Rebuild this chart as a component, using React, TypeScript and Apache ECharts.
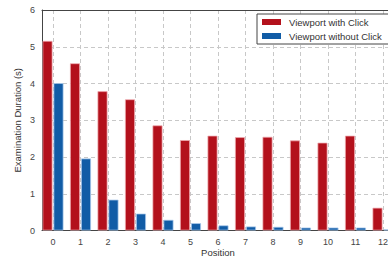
import React, { useEffect, useRef } from "react";
import * as echarts from "echarts";

const positions = [0, 1, 2, 3, 4, 5, 6, 7, 8, 9, 10, 11, 12];
const withClick = [5.16, 4.55, 3.79, 3.57, 2.86, 2.46, 2.58, 2.54, 2.55, 2.45, 2.39, 2.58, 0.62];
const withoutClick = [4.01, 1.96, 0.84, 0.46, 0.29, 0.2, 0.14, 0.11, 0.1, 0.08, 0.08, 0.08, 0.03];
const seriesNames = ["Viewport with Click", "Viewport without Click"];
const yTicks = [0, 1, 2, 3, 4, 5, 6];

const FONT = "Liberation Sans";

export default function App() {
  const ref = useRef<HTMLDivElement>(null);
  useEffect(() => {
    if (!ref.current) return;
    const chart = echarts.init(ref.current, null, { renderer: "svg" });
    const gridColor = "#c8c8c8";
    const dash = { color: gridColor, type: [4, 3] as any, width: 1 };
    const isInt = (v: number) => Math.abs(v - Math.round(v)) < 1e-6;
    // x ticks every 0.2 starting at -0.4: integer ticks are indices 2, 7, 12, ...
    const xSplitColors = ["transparent", "transparent", gridColor, "transparent", "transparent"];
    chart.setOption({
      animation: false,
      backgroundColor: "#ffffff",
      textStyle: { fontFamily: FONT },
      grid: { left: 42, top: 10, right: -6, bottom: 28.5, outerBoundsMode: "none", containLabel: false },
      legend: {
        data: seriesNames,
        orient: "vertical",
        left: 257,
        top: 14,
        padding: [3, 14, 3, 5],
        itemGap: 4,
        itemWidth: 19,
        itemHeight: 6,
        itemStyle: { borderWidth: 0 },
        borderColor: "#444",
        borderWidth: 1,
        backgroundColor: "#fff",
        textStyle: { fontFamily: FONT, fontSize: 9.5, color: "#333", padding: [0, 0, 0, 3] },
        icon: "rect",
      },
      xAxis: [
        {
          type: "value",
          min: -0.4,
          max: 12.4,
          interval: 0.2,
          name: "Position",
          nameLocation: "middle",
          nameGap: 17,
          nameMoveOverlap: false,
          nameTextStyle: { fontFamily: FONT, fontSize: 9.5, color: "#333", lineHeight: 10 },
          axisLine: { show: true, onZero: false, lineStyle: { color: "#444", width: 1 } },
          axisTick: { show: false },
          axisLabel: {
            fontFamily: FONT,
            fontSize: 9,
            color: "#444",
            margin: 7,
            hideOverlap: false,
            formatter: (v: number) => (isInt(v) ? String(Math.round(v)) : ""),
          },
          splitLine: { show: true, lineStyle: { ...dash, color: xSplitColors } },
        },
        {
          type: "value",
          position: "top",
          min: -0.4,
          max: 12.4,
          axisLine: { show: true, onZero: false, lineStyle: { color: "#444", width: 1 } },
          axisTick: { show: false },
          axisLabel: { show: false },
          splitLine: { show: false },
        },
      ],
      yAxis: {
        type: "value",
        min: yTicks[0],
        max: yTicks[yTicks.length - 1],
        interval: 1,
        name: "Examination Duration (s)",
        nameLocation: "middle",
        nameGap: 20,
        nameMoveOverlap: false,
        nameTextStyle: { fontFamily: FONT, fontSize: 9.5, color: "#333" },
        axisLine: { show: true, onZero: false, lineStyle: { color: "#444", width: 1 } },
        axisTick: { show: false },
        axisLabel: { fontFamily: FONT, fontSize: 9, color: "#444", margin: 7 },
        splitLine: { show: true, lineStyle: dash },
      },
      series: [
        {
          name: seriesNames[0],
          type: "bar",
          xAxisIndex: 0,
          barWidth: 10,
          barGap: "10%",
          data: positions.map((p, i) => [p, withClick[i]]),
          itemStyle: { color: "#b3111c", borderColor: "rgba(240,170,175,0.9)", borderWidth: 0.8 },
        },
        {
          name: seriesNames[1],
          type: "bar",
          xAxisIndex: 0,
          barWidth: 10,
          barGap: "10%",
          data: positions.map((p, i) => [p, withoutClick[i]]),
          itemStyle: { color: "#115ca6", borderColor: "rgba(170,200,235,0.9)", borderWidth: 0.8 },
        },
      ],
    });
    return () => chart.dispose();
  }, []);
  return (
    <div
      ref={ref}
      style={{ position: "fixed", left: 0, top: 0, width: 388, height: 259 }}
    />
  );
}
